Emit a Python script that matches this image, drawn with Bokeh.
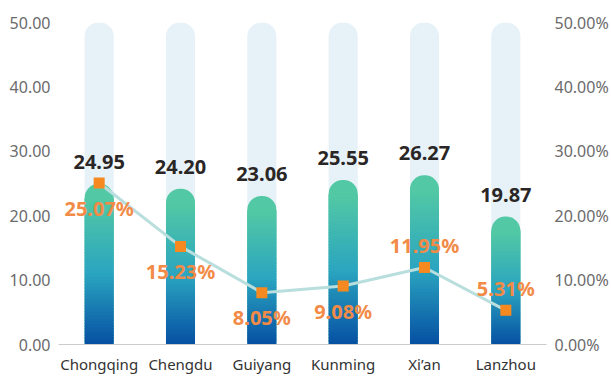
from bokeh.plotting import figure
from bokeh.models import ColumnDataSource, Range1d, LinearAxis, PrintfTickFormatter, FixedTicker
from bokeh.core.properties import value
from bokeh.embed import file_html
from bokeh.resources import INLINE

# ---- data ----
cities = ["Chongqing", "Chengdu", "Guiyang", "Kunming", "Xi\u2019an", "Lanzhou"]
amounts = [24.95, 24.20, 23.06, 25.55, 26.27, 19.87]
shares = [25.07, 15.23, 8.05, 9.08, 11.95, 5.31]
axis_max = 50
left_ticks = [0, 10, 20, 30, 40, 50]
right_ticks = [0, 10, 20, 30, 40, 50]

# ---- styles ----
share_label_side = ["below", "below", "below", "below", "above", "above"]
FONT = "Noto Sans"
BAR_W = 0.357
RAD = 14
BG_COLOR = "#e6f1f8"
STOPS = [(0.0, (5, 78, 162)), (0.5, (43, 165, 192)), (1.0, (82, 200, 164))]
LINE_COLOR = "#b8dedd"
MARK_COLOR = "#f6891f"
PCT_COLOR = "#f28b47"


def grad(t):
    for (t0, c0), (t1, c1) in zip(STOPS[:-1], STOPS[1:]):
        if t <= t1:
            f = (t - t0) / (t1 - t0)
            r, g, b = (round(a + (bb - a) * f) for a, bb in zip(c0, c1))
            return "#%02x%02x%02x" % (r, g, b)
    return "#%02x%02x%02x" % STOPS[-1][1]


p = figure(x_range=cities, y_range=Range1d(0, axis_max), width=611, height=376,
           output_backend="svg", toolbar_location=None,
           min_border_left=58, min_border_right=65, min_border_top=22, min_border_bottom=31)
p.extra_y_ranges = {"pct": Range1d(0, axis_max)}
p.x_range.range_padding = 0
p.outline_line_color = None
p.xgrid.visible = False
p.ygrid.visible = False
p.background_fill_color = "white"
p.border_fill_color = "white"

# background bars
p.vbar(x=cities, top=[axis_max] * len(cities), bottom=0, width=BAR_W,
       fill_color=BG_COLOR, line_color=None, border_radius=(RAD, RAD, 0, 0))

# gradient bars: rounded full bar in top colour, then gradient slices
p.vbar(x=cities, top=amounts, bottom=0, width=BAR_W, fill_color=grad(1.0),
       line_color=None, border_radius=(RAD, RAD, 0, 0))
N = 50
xs, bots, tops, cols = [], [], [], []
for c, v in zip(cities, amounts):
    body = v - 2.2
    for k in range(N):
        b = body * k / N
        t = body * (k + 1) / N
        xs.append(c)
        bots.append(b)
        tops.append(t + (0.25 if k < N - 1 else 0.0))
        cols.append(grad((k + 1) / N))
p.vbar(x="x", bottom="b", top="t", width=BAR_W, fill_color="c", line_color=None,
       source=ColumnDataSource(dict(x=xs, b=bots, t=tops, c=cols)))

# line + markers
p.line(x=cities, y=shares, y_range_name="pct", line_color=LINE_COLOR, line_width=3)
p.scatter(x=cities, y=shares, y_range_name="pct", marker="square", size=11,
          fill_color=MARK_COLOR, line_color=None)

# value labels
p.text(x=cities, y=amounts, text=["%.2f" % v for v in amounts], text_align="center",
       text_baseline="middle", y_offset=-22, text_font=value(FONT),
       text_font_size="20px", text_font_style="bold", text_color="#2a2626")

# share labels
offs = [25 if s == "below" else -22 for s in share_label_side]
p.text(x=cities, y=shares, y_range_name="pct", text=["%.2f%%" % s for s in shares],
       text_align="center", text_baseline="middle", y_offset=offs,
       text_font=value(FONT), text_font_size="20px", text_font_style="bold",
       text_color=PCT_COLOR)

# axes
la = p.yaxis[0]
la.ticker = FixedTicker(ticks=left_ticks)
la.formatter = PrintfTickFormatter(format="%.2f")
ra = LinearAxis(y_range_name="pct", ticker=FixedTicker(ticks=right_ticks),
                formatter=PrintfTickFormatter(format="%.2f%%"))
p.add_layout(ra, "right")
for ax in (la, ra):
    ax.axis_line_color = None
    ax.major_tick_line_color = None
    ax.minor_tick_line_color = None
    ax.major_tick_out = 0
    ax.major_tick_in = 0
    ax.minor_tick_out = 0
    ax.major_label_text_font = FONT
    ax.major_label_text_font_size = "16px"
    ax.major_label_text_color = "#6b6b6b"
    ax.major_label_standoff = 8
xa = p.xaxis[0]
xa.axis_line_color = "#cccccc"
xa.major_tick_line_color = None
xa.minor_tick_line_color = None
xa.major_tick_out = 0
xa.major_tick_in = 0
xa.major_label_text_font = FONT
xa.major_label_text_font_size = "15px"
xa.major_label_text_color = "#333333"
xa.major_label_standoff = 9

open("out.html", "w").write(file_html(p, INLINE))
